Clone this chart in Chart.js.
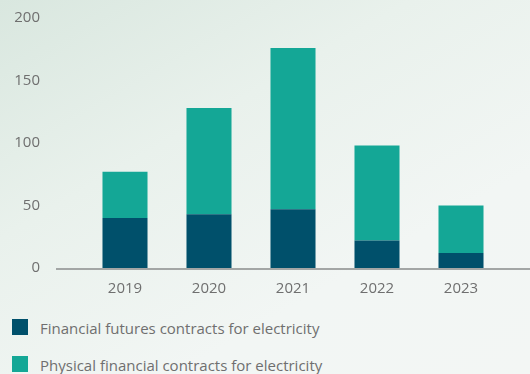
<!DOCTYPE html>
<html>
<head>
<meta charset="utf-8">
<script src="https://cdn.jsdelivr.net/npm/chart.js@4"></script>
<style>
    html, body {
        margin: 0;
        padding: 0;
        width: 530px;
        height: 374px;
        overflow: hidden;
    }
    body {
        background: linear-gradient(150deg, #d9e7df 0%, #e9f1ec 35%, #f2f6f4 70%, #f3f6f4 100%);
        font-family: "Open Sans", sans-serif;
    }
    #contractsChart {
        display: block;
    }
    #legend {
        list-style: none;
        margin: 0;
        padding: 0;
    }
    #legend li {
        position: absolute;
        left: 40px;
        line-height: 20px;
        color: #6f6f6f;
        font-size: 15px;
        white-space: nowrap;
    }
    #legend li span {
        position: absolute;
        left: -28px;
        top: 1px;
        width: 16px;
        height: 16px;
    }
</style>
</head>
<body>
<canvas id="contractsChart" width="530" height="305"></canvas>
<ul id="legend"></ul>
<script>
    const years = ['2019', '2020', '2021', '2022', '2023'];
    const futuresValues = [40, 43, 47, 22, 12];
    const physicalValues = [37, 85, 129, 76, 38];
    const yTicks = [0, 50, 100, 150, 200];

    const DARK = '#00506b';
    const TEAL = '#14a796';
    const TEXT = '#6f6f6f';

    // baseline under the bars, running past the plot area on the right
    const baseLine = {
        id: 'baseLine',
        afterDatasetsDraw(chart) {
            const { ctx } = chart;
            const y = chart.scales.y.getPixelForValue(0);
            ctx.save();
            ctx.strokeStyle = '#a3a6a5';
            ctx.lineWidth = 2;
            ctx.beginPath();
            ctx.moveTo(56, y + 1);
            ctx.lineTo(chart.width, y + 1);
            ctx.stroke();
            ctx.restore();
        }
    };

    const ctx = document.getElementById('contractsChart').getContext('2d');
    const chart = new Chart(ctx, {
        type: 'bar',
        data: {
            labels: years,
            datasets: [
                {
                    label: 'Financial futures contracts for electricity',
                    data: futuresValues,
                    backgroundColor: DARK
                },
                {
                    label: 'Physical financial contracts for electricity',
                    data: physicalValues,
                    backgroundColor: TEAL
                }
            ]
        },
        options: {
            responsive: false,
            animation: false,
            layout: {
                padding: { left: 0, right: 27, top: 18, bottom: 0 }
            },
            datasets: {
                bar: {
                    barPercentage: 0.536,
                    categoryPercentage: 1
                }
            },
            plugins: {
                legend: { display: false },
                tooltip: { enabled: false }
            },
            scales: {
                x: {
                    stacked: true,
                    afterFit: scale => { scale.height = 37; },
                    grid: { display: false, drawTicks: false },
                    border: { display: false },
                    ticks: {
                        color: TEXT,
                        padding: 12,
                        font: { family: 'Open Sans', size: 15 }
                    }
                },
                y: {
                    stacked: true,
                    min: 0,
                    max: 200,
                    afterFit: scale => { scale.width = 83; },
                    afterBuildTicks: scale => {
                        scale.ticks = yTicks.map(v => ({ value: v }));
                    },
                    // invisible tick marks push the labels away from the bars
                    grid: { display: false, drawTicks: true, tickLength: 43, tickColor: 'transparent' },
                    border: { display: false },
                    ticks: {
                        color: TEXT,
                        padding: 0,
                        font: { family: 'Open Sans', size: 15 }
                    }
                }
            }
        },
        plugins: [baseLine]
    });

    // legend list built from the datasets, one row per series
    const legendEl = document.getElementById('legend');
    chart.data.datasets.forEach((ds, i) => {
        const li = document.createElement('li');
        li.style.top = (318 + i * 37) + 'px';
        const box = document.createElement('span');
        box.style.background = ds.backgroundColor;
        li.appendChild(box);
        li.appendChild(document.createTextNode(ds.label));
        legendEl.appendChild(li);
    });
</script>
</body>
</html>
